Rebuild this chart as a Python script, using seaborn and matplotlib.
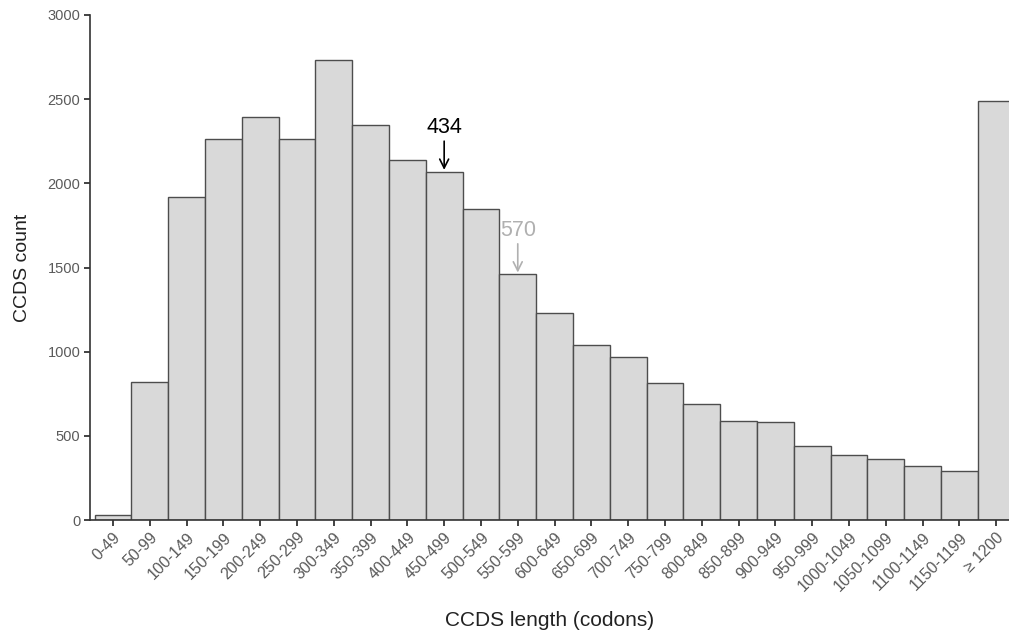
import matplotlib
matplotlib.use("Agg")
import matplotlib.pyplot as plt
import seaborn as sns
import pandas as pd

# Datos
categorias = ['0-49', '50-99', '100-149', '150-199', '200-249', '250-299', '300-349',
              '350-399', '400-449', '450-499', '500-549', '550-599', '600-649', '650-699',
              '700-749', '750-799', '800-849', '850-899', '900-949', '950-999',
              '1000-1049', '1050-1099', '1100-1149', '1150-1199', '\u2265 1200']
conteos = [30, 820, 1920, 2265, 2392, 2262, 2735, 2347, 2137, 2070, 1850, 1460,
           1232, 1040, 970, 815, 690, 590, 585, 442, 388, 360, 318, 292, 2492]

# Anotaciones (mediana y media)
anot_texto = ['434', '570']
anot_cat = ['450-499', '550-599']
anot_color = ['black', '#b0b0b0']

df = pd.DataFrame({'cat': categorias, 'n': conteos})

sns.set_style('ticks')
plt.rcParams['font.family'] = ['Liberation Sans', 'DejaVu Sans']

fig = plt.figure(figsize=(10.09, 6.36), dpi=100)
ax = fig.add_axes([90 / 1009, 1 - 520 / 636, 1 - 90 / 1009, (520 - 15) / 636])

sns.barplot(data=df, x='cat', y='n', order=categorias, color='#d9d9d9',
            saturation=1, width=1, edgecolor='#4d4d4d', linewidth=1, ax=ax)

ax.set_xlim(-0.625, 24.35)
ax.set_ylim(0, 3000)
ax.set_yticks([0, 500, 1000, 1500, 2000, 2500, 3000])

ax.set_xticks(range(len(categorias)))
ax.set_xticklabels(categorias, rotation=45, ha='right', rotation_mode='anchor')
ax.tick_params(axis='both', labelcolor='#5a5a5a', color='#222222',
               length=4, width=1.2)
ax.tick_params(axis='x', labelsize=11.5, pad=3)
ax.tick_params(axis='y', labelsize=10.5, pad=3)

for s in ['left', 'bottom']:
    ax.spines[s].set_color('#333333')
    ax.spines[s].set_linewidth(1.2)
sns.despine(ax=ax)

ax.set_xlabel('CCDS length (codons)', fontsize=15, color='#222222', labelpad=12)
ax.set_ylabel('CCDS count', fontsize=14, color='#222222', labelpad=12)

for txt, cat, col in zip(anot_texto, anot_cat, anot_color):
    i = categorias.index(cat)
    h = conteos[i]
    ax.annotate(txt, xy=(i, h + 10), xytext=(i, h + 200),
                ha='center', va='bottom', fontsize=15.5, color=col,
                arrowprops=dict(arrowstyle='->', color=col, lw=1.2,
                                shrinkA=0, shrinkB=0, mutation_scale=16))

fig.savefig('out.png', dpi=100)
